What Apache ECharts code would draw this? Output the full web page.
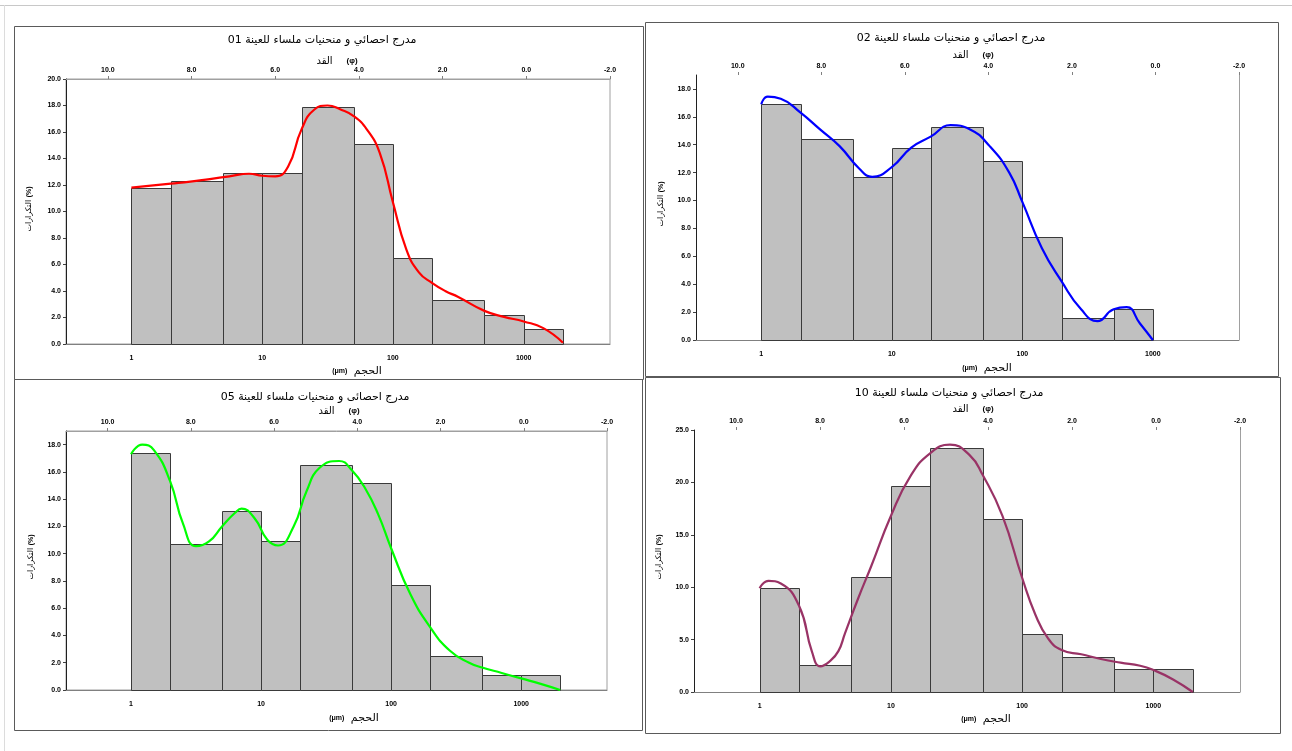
<!DOCTYPE html>
<html><head><meta charset="utf-8">
<script src="https://cdn.jsdelivr.net/npm/echarts@6/dist/echarts.min.js"></script>
<style>html,body{margin:0;padding:0;background:#fff;}#c{width:1292px;height:751px;}</style>
</head><body><div id="c"></div>
<script>
// ---------- data ----------
const binEdges = [1, 2, 5, 10, 20, 50, 100, 200, 500, 1000, 2000];
const sizeTicks = [1, 10, 100, 1000];
const phiTicks = [10, 8, 6, 4, 2, 0, -2];
const yTicks01 = [0, 2, 4, 6, 8, 10, 12, 14, 16, 18, 20];
const yTicks02 = [0, 2, 4, 6, 8, 10, 12, 14, 16, 18];
const yTicks05 = [0, 2, 4, 6, 8, 10, 12, 14, 16, 18];
const yTicks10 = [0, 5, 10, 15, 20, 25];

const titles = [
  'مدرج احصائي و منحنيات ملساء للعينة 01',
  'مدرج احصائي و منحنيات ملساء للعينة 02',
  'مدرج احصائى و منحنيات ملساء للعينة 05',
  'مدرج احصائي و منحنيات ملساء للعينة 10'
];
const topAxisName = 'القد';
const topAxisUnit = '(φ)';
const bottomAxisName = 'الحجم';
const bottomAxisUnit = '(μm)';
const yAxisName = 'التكرارات';
const yAxisUnit = '(%)';

const sample01Bars = [11.8, 12.3, 12.9, 12.9, 17.9, 15.1, 6.5, 3.3, 2.2, 1.1];
const sample02Bars = [16.9, 14.4, 11.7, 13.8, 15.3, 12.8, 7.4, 1.6, 2.2];
const sample05Bars = [17.4, 10.7, 13.1, 10.9, 16.5, 15.2, 7.7, 2.5, 1.1, 1.1];
const sample10Bars = [9.9, 2.6, 11.0, 19.7, 23.3, 16.5, 5.5, 3.3, 2.2, 2.2];

const sample01Curve = [[1,11.8],[1.41,11.95],[2,12.1],[2.82,12.25],[3.98,12.45],[5.62,12.65],[7.94,12.85],[10,12.7],[12.6,12.65],[15.8,13.4],[20,16.2],[25.1,17.7],[31.6,18.0],[39.8,17.7],[50.1,17.2],[63.1,16.2],[79.4,14.4],[100,10.7],[126,7.2],[158,5.4],[200,4.6],[251,4.0],[316,3.55],[501,2.5],[708,2.05],[1000,1.7],[1413,1.2],[1995,0.1]];
const sample02Curve = [[1,16.9],[1.12,17.45],[1.41,17.3],[2,16.3],[2.82,15.1],[3.98,13.9],[5.62,12.3],[7.08,11.7],[10,12.4],[14.1,13.8],[20,14.6],[28.2,15.4],[39.8,15.1],[56.2,13.9],[79.4,12.0],[100,9.9],[141,6.6],[200,4.2],[282,2.2],[376,1.35],[501,2.2],[630,2.35],[794,1.2],[1000,0]];
const sample05Curve = [[1,17.3],[1.22,18.0],[1.5,17.6],[2,15.3],[2.51,12.2],[3.16,10.55],[3.98,10.9],[5.01,12.0],[6.31,13.0],[7.08,13.3],[8.91,12.6],[11.2,11.0],[13.5,10.6],[17.8,12.0],[22.4,14.6],[28.2,16.3],[39.8,16.8],[50.1,16.1],[63.1,14.8],[79.4,12.9],[100,10.4],[141,7.0],[200,4.6],[282,2.9],[398,2.0],[501,1.65],[708,1.25],[1000,0.85],[1413,0.45],[1995,0]];
const sample10Curve = [[1,9.9],[1.17,10.6],[1.45,10.35],[2,8.2],[2.51,3.8],[2.9,2.45],[3.4,2.9],[3.98,3.9],[4.47,5.6],[5.62,8.9],[7.08,12.0],[10,16.8],[14.1,20.6],[20,22.8],[28.2,23.6],[39.8,22.6],[50.1,20.7],[70.8,16.8],[100,10.9],[126,7.4],[158,5.1],[200,4.0],[282,3.6],[398,3.15],[562,2.8],[794,2.5],[1000,2.1],[1413,1.2],[1995,0]];

const yMax = [20, 19, 19, 25];
const yTicksAll = [yTicks01, yTicks02, yTicks05, yTicks10];
const curveColors = ['#FF0000', '#0000FF', '#00FF00', '#993366'];

// ---------- layout ----------
const grids = [
  {left: 66, top: 79, width: 544, height: 265},
  {left: 696, top: 75, width: 543, height: 265},
  {left: 66, top: 431, width: 541, height: 259},
  {left: 694, top: 430, width: 546, height: 262}
];
const boxes = [
  [14, 26, 629, 353],
  [645, 22, 633, 354],
  [14, 379, 628, 351],
  [645, 377, 635, 356]
];
const titlePos = [[322, 40], [951, 38], [315, 397], [949, 393]];
const topNamePos = [[337, 61], [973, 55], [339, 411], [973, 409]];
const bottomNamePos = [[357, 371], [987, 368], [354, 718], [986, 719]];
const yNamePos = [[29, 209], [661, 204], [31, 557], [659, 557]];
const framed = [true, false, true, false];

const barsAll = [sample01Bars, sample02Bars, sample05Bars, sample10Bars];
const curvesAll = [sample01Curve, sample02Curve, sample05Curve, sample10Curve];

const numFont = 'Liberation Sans, Arial, sans-serif';
const arFont = 'DejaVu Sans, sans-serif';

function renderBar(params, api) {
  const p0 = api.coord([api.value(0), api.value(2)]);
  const p1 = api.coord([api.value(1), 0]);
  return {
    type: 'rect',
    shape: {x: Math.round(p0[0]) + 0.5, y: Math.round(p0[1]) + 0.5,
            width: Math.round(p1[0]) - Math.round(p0[0]), height: Math.round(p1[1]) - Math.round(p0[1])},
    style: {fill: '#C0C0C0', stroke: '#3a3a3a', lineWidth: 1}
  };
}

const option = {
  animation: false,
  backgroundColor: '#fff',
  grid: grids.map((g, i) => Object.assign({
    show: framed[i], borderColor: '#a0a0a0', borderWidth: 1, backgroundColor: 'transparent'
  }, g)),
  xAxis: [],
  yAxis: [],
  series: [],
  graphic: []
};

for (let i = 0; i < 4; i++) {
  const yt = yTicksAll[i];
  const yStep = yt[1] - yt[0];
  option.xAxis.push({
    type: 'log', logBase: 10, gridIndex: i, position: 'bottom',
    min: 0.3162, max: 4571,
    axisLine: {show: true, onZero: false, lineStyle: {color: '#808080', width: 1}},
    axisTick: {show: false},
    splitLine: {show: false},
    minorTick: {show: false},
    axisLabel: {
      customValues: sizeTicks,
      margin: 11, fontSize: 7, fontWeight: 'bold', fontFamily: numFont, color: '#000',
      formatter: v => {
        const l = Math.log10(v);
        return Math.abs(l - Math.round(l)) < 1e-6 && l > -0.1 ? String(Math.round(v)) : '';
      }
    }
  });
  option.xAxis.push({
    type: 'value', gridIndex: i, position: 'top',
    min: -2, max: 11, interval: 2, inverse: true,
    axisLine: {show: framed[i], onZero: false, lineStyle: {color: '#a0a0a0', width: 1}},
    axisTick: {show: true, customValues: phiTicks, length: 3, inside: false, lineStyle: {color: '#808080'}},
    splitLine: {show: false},
    axisLabel: {
      customValues: phiTicks,
      margin: 5, fontSize: 7, fontWeight: 'bold', fontFamily: numFont, color: '#000',
      formatter: v => (v > 10.5 ? '' : v.toFixed(1))
    }
  });
  option.yAxis.push({
    type: 'value', gridIndex: i, min: 0, max: yMax[i], interval: yStep,
    axisLine: {show: true, onZero: false, lineStyle: {color: '#202020', width: 1}},
    axisTick: {show: true, customValues: yt, length: 3, lineStyle: {color: '#404040'}},
    splitLine: {show: false},
    axisLabel: {
      customValues: yt,
      margin: 5, fontSize: 7, fontWeight: 'bold', fontFamily: numFont, color: '#000',
      formatter: v => {
        const r = v / yStep;
        return Math.abs(r - Math.round(r)) < 1e-9 ? v.toFixed(1) : '';
      }
    }
  });

  option.series.push({
    type: 'custom', xAxisIndex: 2 * i, yAxisIndex: i,
    renderItem: renderBar,
    encode: {x: [0, 1], y: 2},
    data: barsAll[i].map((v, k) => [binEdges[k], binEdges[k + 1], v]),
    z: 2
  });
  option.series.push({
    type: 'line', xAxisIndex: 2 * i, yAxisIndex: i,
    data: curvesAll[i], smooth: 0.5, showSymbol: false, symbol: 'none',
    lineStyle: {color: curveColors[i], width: 2.2},
    clip: true, z: 5
  });

  const b = boxes[i];
  option.graphic.push({
    type: 'rect', silent: true, z: -1,
    shape: {x: b[0] + 0.5, y: b[1] + 0.5, width: b[2], height: b[3]},
    style: {fill: 'none', stroke: '#5a5a5a', lineWidth: 1}
  });
  if (!framed[i]) {
    const g = grids[i];
    option.graphic.push({
      type: 'line', silent: true,
      shape: {x1: g.left + g.width + 0.5, y1: g.top, x2: g.left + g.width + 0.5, y2: g.top + g.height},
      style: {stroke: '#a0a0a0', lineWidth: 1}
    });
  }
  option.graphic.push({
    type: 'text', silent: true, x: titlePos[i][0], y: titlePos[i][1],
    style: {text: titles[i], fontSize: 11, fontFamily: arFont, fill: '#000', align: 'center', verticalAlign: 'middle'}
  });
  option.graphic.push({
    type: 'text', silent: true, x: topNamePos[i][0], y: topNamePos[i][1],
    style: {
      text: topAxisName + '{b|' + topAxisUnit + '}', fontSize: 10, fontFamily: arFont, fill: '#000',
      align: 'center', verticalAlign: 'middle',
      rich: {b: {fontSize: 8, fontWeight: 'bold', fontFamily: numFont, padding: [0, 0, 0, 14]}}
    }
  });
  option.graphic.push({
    type: 'text', silent: true, x: bottomNamePos[i][0], y: bottomNamePos[i][1],
    style: {
      text: '{b|' + bottomAxisUnit + '}' + ' ' + bottomAxisName, fontSize: 11, fontFamily: arFont, fill: '#000',
      align: 'center', verticalAlign: 'middle',
      rich: {b: {fontSize: 7, fontWeight: 'bold', fontFamily: numFont, padding: [0, 3, 0, 0]}}
    }
  });
  option.graphic.push({
    type: 'text', silent: true, x: yNamePos[i][0], y: yNamePos[i][1], rotation: Math.PI / 2,
    style: {
      text: yAxisName + ' {b|' + yAxisUnit + '}', fontSize: 8, fontFamily: arFont, fill: '#000',
      align: 'center', verticalAlign: 'middle',
      rich: {b: {fontSize: 7, fontWeight: 'bold', fontFamily: numFont}}
    }
  });
}

option.graphic.push({
  type: 'line', silent: true, shape: {x1: 0, y1: 5.5, x2: 1292, y2: 5.5},
  style: {stroke: '#c8c8c8', lineWidth: 1}
});
option.graphic.push({
  type: 'line', silent: true, shape: {x1: 4.5, y1: 5, x2: 4.5, y2: 751},
  style: {stroke: '#dcdcdc', lineWidth: 1}
});

const chart = echarts.init(document.getElementById('c'), null, {renderer: 'canvas'});
chart.setOption(option);
</script>
</body></html>
